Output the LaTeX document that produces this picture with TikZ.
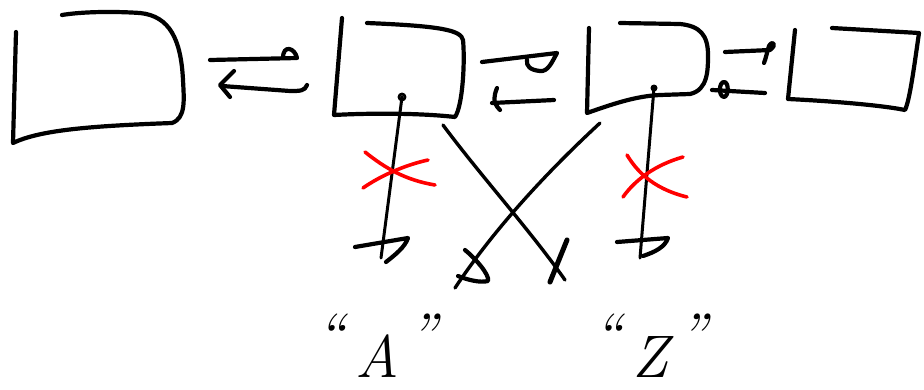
\documentclass[tikz,border=0pt]{standalone}
\begin{document}
\begin{tikzpicture}[x=1pt,y=-1pt,
  sk/.style={line width=4.2pt,line cap=round,line join=round,black},
  rx/.style={line width=3.6pt,line cap=round,red},
  lbl/.style={font=\itshape\fontsize{60}{60}\selectfont,inner sep=0pt,anchor=base}]
\useasboundingbox (0,0) rectangle (924,389);
% boxes
\draw[sk] (16,32) -- (13,143) .. controls (40,130) and (90,126) .. (172,123)
  .. controls (186,118) and (184,100) .. (183,80) .. controls (181,40) and (170,16) .. (140,13)
  .. controls (110,11) and (80,12) .. (62,15);
\draw[sk] (342,18) -- (334,115) .. controls (370,113) and (420,113) .. (455,117)
  .. controls (463,105) and (465,60) .. (463,40) .. controls (461,30) and (440,26) .. (367,23);
\draw[sk] (589,28) -- (587,113) .. controls (610,105) and (635,96) .. (660,95) -- (690,94)
  .. controls (708,90) and (708,70) .. (708,55) .. controls (708,35) and (700,26) .. (680,24) -- (620,23);
\draw[sk] (795,30) -- (788,99) .. controls (830,101) and (880,105) .. (905,110)
  .. controls (910,100) and (915,60) .. (919,33) -- (832,28);
% links box1 - box2
\draw[sk] (210,60) -- (297,58) .. controls (295,48) and (283,44) .. (283,58);
\draw[sk] (307,85) .. controls (305,91) and (300,91) .. (290,91) -- (222,86);
\draw[sk] (234,71) -- (220,85) -- (230,97);
% links box2 - box3
\draw[sk] (482,62) -- (557,53) .. controls (552,62) and (548,72) .. (540,71) .. controls (530,70) and (526,66) .. (527,60);
\draw[sk] (554,100) -- (492,103);
\draw[sk] (497,88) .. controls (494,96) and (492,102) .. (500,110);
% links box3 - box4
\draw[sk] (725,52) -- (770,50) .. controls (778,44) and (772,40) .. (769,46) .. controls (767,52) and (766,58) .. (764,63);
\draw[sk] (724,82) .. controls (719,82) and (718,96) .. (724,97) .. controls (729,96) and (729,82) .. (724,82);
\draw[sk] (712,90) -- (765,93);
% pointers
\coordinate (p2) at (402,97);
\coordinate (e2) at (381,258);
\coordinate (p3) at (654,88);
\coordinate (e3) at (640,258);
\draw[sk,line width=2.8pt] (p2) circle (3);
\fill (p3) circle (3.5);
\draw[sk,line width=3pt] (p2) -- (e2);
\draw[sk,line width=3pt] (p3) -- (e3);
\draw[sk] (355,247) -- (408,238) .. controls (405,247) and (395,255) .. (386,262);
\draw[sk] (617,242) -- (668,238) .. controls (665,247) and (655,252) .. (643,256);
% crossing links
\coordinate (c2) at (443,125);
\coordinate (n2) at (565,280);
\coordinate (c3) at (600,123);
\coordinate (n3) at (455,288);
\draw[sk,line width=3.4pt] (c2) .. controls (480,175) and (530,230) .. (n2);
\draw[sk,line width=3.4pt] (c3) .. controls (560,160) and (500,220) .. (n3);
\draw[sk,line width=5pt] (567,240) -- (550,282);
\draw[sk] (465,250) .. controls (475,258) and (490,275) .. (488,281) .. controls (480,283) and (468,280) .. (458,276);
% red crosses
\draw[rx] (363,188) .. controls (380,176) and (405,165) .. (428,160);
\draw[rx] (365,152) .. controls (385,168) and (405,180) .. (435,185);
\draw[rx] (627,155) .. controls (635,168) and (650,188) .. (687,197);
\draw[rx] (623,197) .. controls (635,180) and (655,165) .. (683,157);
% labels
\node[lbl] (la) at (377,377) {\raisebox{22pt}{``}\,A\,\raisebox{22pt}{''}};
\node[lbl] (lz) at (650,377) {\raisebox{22pt}{``}\,Z\,\raisebox{22pt}{''}};
\end{tikzpicture}
\end{document}
